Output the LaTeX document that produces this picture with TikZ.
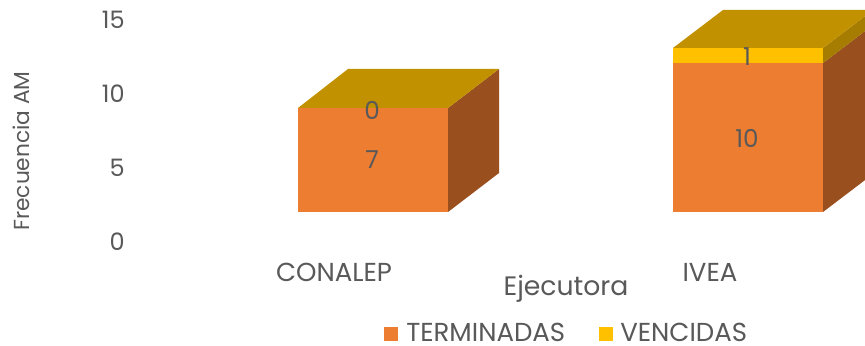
\documentclass[tikz,border=0pt]{standalone}
\usepackage{fontspec}
\setmainfont{Poppins}
\definecolor{txt}{HTML}{595959}
\definecolor{orf}{HTML}{ED7D31}
\definecolor{ors}{HTML}{9A4F1E}
\definecolor{yef}{HTML}{FFC000}
\definecolor{yes}{HTML}{A67D00}
\definecolor{yet}{HTML}{C29100}
\begin{document}
\begin{tikzpicture}[x=0.75pt,y=-0.75pt,
  lbl/.style={text=txt,inner sep=0pt,font=\fontsize{19.5}{22}\selectfont},
  dat/.style={text=txt,inner sep=0pt,font=\fontsize{18.5}{22}\selectfont},
  tick/.style={text=txt,inner sep=0pt,anchor=east,font=\fontsize{18}{22}\selectfont},
  ttl/.style={text=txt,inner sep=0pt,font=\fontsize{20}{24}\selectfont}]
\useasboundingbox (0,0) rectangle (865,346);
\clip (0,0) rectangle (865,346);
\fill[white] (0,0) rectangle (865,346);
% axis ticks
\node[tick] (t15) at (125,20) {15};
\node[tick] (t10) at (125,94) {10};
\node[tick] (t5) at (125,168) {5};
\node[tick] (t0) at (125,242) {0};
\node[ttl,font=\fontsize{16.3}{20}\selectfont,rotate=90] (yt) at (21,151) {Frecuencia AM};
% CONALEP bar
\fill[orf] (298,108) rectangle (448,212);
\fill[ors] (448,108) -- (499,69) -- (499,173) -- (448,212) -- cycle;
\fill[yet] (298,108) -- (348,69) -- (499,69) -- (448,108) -- cycle;
\node[dat] (c0) at (372,110) {0};
\node[dat] (c7) at (372,160) {7};
% IVEA bar
\fill[orf] (673,63) rectangle (823,212);
\fill[yef] (673,48) rectangle (823,63);
\fill[ors] (823,63) -- (873,25) -- (873,174) -- (823,212) -- cycle;
\fill[yes] (823,48) -- (873,10) -- (873,25) -- (823,63) -- cycle;
\fill[yet] (673,48) -- (723,10) -- (873,10) -- (823,48) -- cycle;
\node[dat] (i1) at (747,57) {1};
\node[dat] (i10) at (747,138) {10};
% category labels
\node[lbl,anchor=base] (cat1) at (334,281) {CONALEP};
\node[lbl,anchor=base] (cat2) at (710,281) {IVEA};
\node[ttl,anchor=base] (xt) at (566,295) {Ejecutora};
% legend
\fill[orf] (384,327) rectangle (398,341);
\node[lbl,anchor=base west] (lg1) at (406,341) {TERMINADAS};
\fill[yef] (599,327) rectangle (613,341);
\node[lbl,anchor=base west] (lg2) at (620,341) {VENCIDAS};
\end{tikzpicture}
\end{document}
